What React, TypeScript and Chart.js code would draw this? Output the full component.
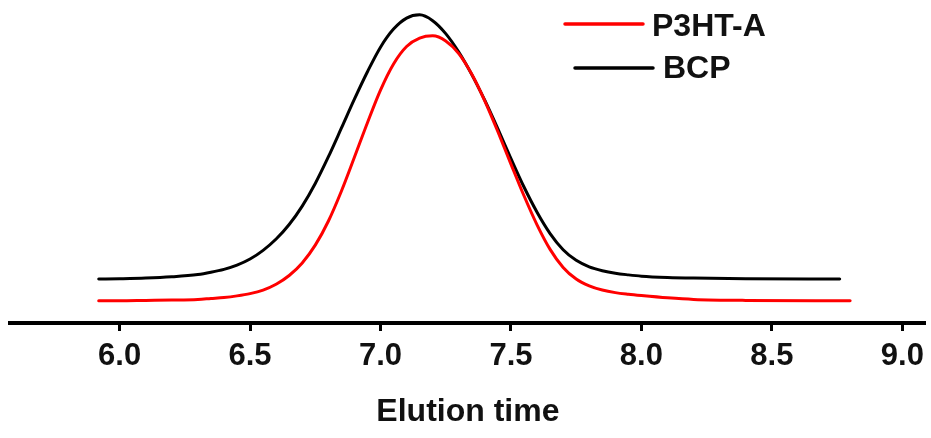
import React, { useEffect, useRef } from "react";
import { Chart, registerables } from "chart.js";

Chart.register(...registerables);

// Elution time (x) and normalized detector signal (y, arbitrary units)
const P3HT_X = [5.92, 6.0, 6.1, 6.2, 6.3, 6.35, 6.4, 6.45, 6.5, 6.55, 6.6, 6.65, 6.7, 6.75, 6.8, 6.85, 6.9, 6.95, 7.0, 7.05, 7.1, 7.15, 7.2, 7.25, 7.3, 7.35, 7.4, 7.45, 7.5, 7.55, 7.6, 7.65, 7.7, 7.75, 7.8, 7.85, 7.9, 7.95, 8.0, 8.1, 8.2, 8.4, 8.8];
const P3HT_Y = [6.9, 6.9, 7.0, 7.1, 7.3, 7.6, 7.9, 8.4, 9.1, 10.2, 12.0, 14.7, 18.6, 24.1, 31.5, 40.8, 51.3, 62.0, 72.1, 80.2, 85.6, 88.2, 88.9, 87.3, 83.4, 77.0, 68.7, 59.2, 49.2, 39.4, 30.4, 22.8, 17.2, 13.6, 11.5, 10.2, 9.4, 8.9, 8.5, 7.8, 7.3, 7.0, 6.9];

const BCP_X = [5.92, 6.0, 6.1, 6.2, 6.3, 6.35, 6.4, 6.45, 6.5, 6.55, 6.6, 6.65, 6.7, 6.75, 6.8, 6.85, 6.9, 6.95, 7.0, 7.05, 7.1, 7.15, 7.2, 7.25, 7.3, 7.35, 7.4, 7.45, 7.5, 7.55, 7.6, 7.65, 7.7, 7.75, 7.8, 7.85, 7.9, 7.95, 8.0, 8.1, 8.2, 8.4, 8.76];
const BCP_Y = [13.6, 13.7, 13.9, 14.3, 15.0, 15.7, 16.6, 17.9, 19.8, 22.5, 26.0, 30.5, 36.2, 43.2, 51.4, 60.3, 69.3, 77.8, 85.4, 91.0, 94.4, 95.4, 93.6, 89.6, 83.9, 76.9, 68.9, 60.1, 50.9, 42.1, 34.3, 27.7, 22.7, 19.4, 17.4, 16.2, 15.4, 14.9, 14.5, 14.1, 13.9, 13.7, 13.6];

const X_TICKS = [6.0, 6.5, 7.0, 7.5, 8.0, 8.5, 9.0];
const SERIES_LABELS = ["P3HT-A", "BCP"];
const SERIES_COLORS = ["#ff0000", "#000000"];
const X_TITLE = "Elution time";

const FONT_FAMILY = "'Liberation Sans', Arial, sans-serif";

const legendPlugin = {
  id: "customLegend",
  afterDraw(chart: any) {
    const ctx = chart.ctx;
    const slots = [
      { x0: 565, x1: 643, y: 24, tx: 652, base: 36 },
      { x0: 575, x1: 653, y: 68, tx: 663, base: 78 },
    ];
    ctx.save();
    chart.data.datasets.forEach((ds: any, i: number) => {
      const s = slots[i];
      ctx.strokeStyle = ds.borderColor;
      ctx.lineWidth = 3.5;
      ctx.lineCap = "round";
      ctx.beginPath();
      ctx.moveTo(s.x0, s.y);
      ctx.lineTo(s.x1, s.y);
      ctx.stroke();
      ctx.fillStyle = "#111";
      ctx.font = `bold 32px ${FONT_FAMILY}`;
      ctx.textBaseline = "alphabetic";
      ctx.textAlign = "left";
      ctx.fillText(ds.label, s.tx, s.base);
    });
    ctx.restore();
  },
};

export default function App() {
  const ref = useRef<HTMLCanvasElement | null>(null);

  useEffect(() => {
    if (!ref.current) return;
    const toPts = (xs: number[], ys: number[]) => xs.map((x, i) => ({ x, y: ys[i] }));
    const chart = new Chart(ref.current, {
      type: "line",
      data: {
        datasets: [
          {
            label: SERIES_LABELS[0],
            data: toPts(P3HT_X, P3HT_Y),
            borderColor: SERIES_COLORS[0],
            borderWidth: 3,
            pointRadius: 0,
            cubicInterpolationMode: "monotone",
            borderCapStyle: "round",
            clip: false as any,
          },
          {
            label: SERIES_LABELS[1],
            data: toPts(BCP_X, BCP_Y),
            borderColor: SERIES_COLORS[1],
            borderWidth: 3,
            pointRadius: 0,
            cubicInterpolationMode: "monotone",
            borderCapStyle: "round",
            clip: false as any,
          },
        ],
      },
      options: {
        animation: false,
        responsive: true,
        maintainAspectRatio: false,
        layout: { padding: { left: 10, right: 5, top: 0, bottom: 0 } },
        plugins: { legend: { display: false }, tooltip: { enabled: false } },
        scales: {
          x: {
            type: "linear",
            min: 5.58,
            max: 9.09,
            afterBuildTicks: (s: any) => {
              s.ticks = X_TICKS.map((v) => ({ value: v }));
            },
            afterFit: (s: any) => {
              s.height = 115;
            },
            ticks: {
              color: "#111",
              padding: 7,
              maxRotation: 0,
              autoSkip: false,
              font: { family: FONT_FAMILY, size: 31, weight: "bold" },
              callback: (v: any) => Number(v).toFixed(1),
            },
            grid: {
              drawOnChartArea: false,
              drawTicks: true,
              tickLength: 8,
              tickWidth: 3,
              tickColor: "#000",
            },
            border: { display: true, color: "#000", width: 4 },
            title: {
              display: true,
              text: X_TITLE,
              color: "#111",
              font: { family: FONT_FAMILY, size: 32, weight: "bold" },
              padding: { top: 0, bottom: 7 },
            },
          },
          y: { display: false, min: 0, max: 100 },
        },
      },
      plugins: [legendPlugin],
    });
    return () => chart.destroy();
  }, []);

  return (
    <div style={{ position: "absolute", left: 0, top: 0, width: 931, height: 438, background: "#fff" }}>
      <canvas ref={ref} />
    </div>
  );
}
